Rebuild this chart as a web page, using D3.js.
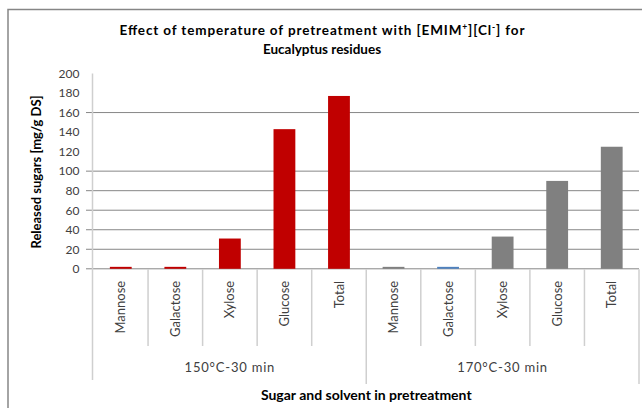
<!DOCTYPE html>
<html><head><meta charset="utf-8">
<script src="https://cdn.jsdelivr.net/npm/d3@7"></script>
<style>
body{margin:0;background:#fff;}
svg{display:block;font-family:"Lato","Liberation Sans",sans-serif;}
</style></head>
<body><svg id="c" width="642" height="408"></svg>
<script>
const groups = ["150°C-30 min", "170°C-30 min"];
const sugars = ["Mannose", "Galactose", "Xylose", "Glucose", "Total"];
const values150 = [2, 2, 31, 143, 177];
const values170 = [2, 2, 33, 90, 125];
const colors150 = ["#c00000", "#c00000", "#c00000", "#c00000", "#c00000"];
const colors170 = ["#808080", "#4f81bd", "#808080", "#808080", "#808080"];
const yTicks = [0, 20, 40, 60, 80, 100, 120, 140, 160, 180, 200];
const gridValues = [0, 20, 40, 60, 80, 100, 160];

const data = [];
groups.forEach((g, gi) => sugars.forEach((s, si) => {
  data.push({key: gi + "-" + s, group: g, gi, sugar: s,
    value: gi === 0 ? values150[si] : values170[si],
    color: gi === 0 ? colors150[si] : colors170[si]});
}));

const svg = d3.select("#c");
const pLeft = 93.5, pRight = 639, pTop = 73.5, pBottom = 268.8;

// outer border
svg.append("rect").attr("x", 8).attr("y", 9.5).attr("width", 660).attr("height", 420)
  .attr("fill", "none").attr("stroke", "#868686").attr("stroke-width", 1.5);

const x = d3.scaleBand().domain(data.map(d => d.key)).range([pLeft, pRight])
  .paddingInner(0.6).paddingOuter(0.3);
const y = d3.scaleLinear().domain([0, 200]).range([pBottom, pTop]);
const step = x.step();
const pad = step * 0.3;

// gridlines
svg.append("g").selectAll("line").data(gridValues).join("line")
  .attr("x1", 86).attr("x2", pRight).attr("y1", d => y(d)).attr("y2", d => y(d))
  .attr("stroke", "#878787").attr("stroke-width", 1);

// y axis
const yAxis = svg.append("g").attr("transform", `translate(${pLeft - 1},0)`)
  .call(d3.axisLeft(y).tickValues(yTicks).tickSize(0).tickPadding(13));
yAxis.select(".domain").remove();
yAxis.selectAll("text").attr("font-size", 12).attr("fill", "#404040")
  .attr("font-family", "Lato, Liberation Sans, sans-serif");
svg.append("line").attr("x1", pLeft - 1).attr("x2", pLeft - 1).attr("y1", pTop).attr("y2", 380)
  .attr("stroke", "#cfcfcf").attr("stroke-width", 1.5);

// bars
svg.append("g").selectAll("rect").data(data).join("rect")
  .attr("x", d => x(d.key)).attr("width", x.bandwidth())
  .attr("y", d => y(d.value)).attr("height", d => y(0) - y(d.value))
  .attr("fill", d => d.color);

// category separators
const seps = data.map(d => x(d.key) - pad).concat([pRight]);
svg.append("g").selectAll("line").data(seps.slice(1)).join("line")
  .attr("x1", d => d).attr("x2", d => d)
  .attr("y1", pBottom + 0.5)
  .attr("y2", (d, i) => (i === 4 || i === 9) ? 384 : 346)
  .attr("stroke", "#cfcfcf").attr("stroke-width", 1.5);

// category labels
const xAxis = svg.append("g").attr("transform", `translate(0,${pBottom})`)
  .call(d3.axisBottom(x).tickSize(0).tickFormat(k => k.split("-")[1]));
xAxis.select(".domain").remove();
xAxis.selectAll("text").attr("font-size", 13).attr("fill", "#404040")
  .attr("font-family", "Lato, Liberation Sans, sans-serif")
  .attr("transform", "rotate(-90)").attr("text-anchor", "end")
  .attr("x", -12).attr("y", 0).attr("dy", "0.35em");

// group labels
svg.append("g").selectAll("text").data(groups).join("text")
  .attr("x", (g, gi) => (x(gi + "-Mannose") - pad + x(gi + "-Total") + x.bandwidth() + pad) / 2)
  .attr("y", 372).attr("text-anchor", "middle")
  .attr("font-size", 13).attr("letter-spacing", 0.8).attr("fill", "#404040").text(g => g);

// axis titles
svg.append("text").attr("x", (pLeft + pRight) / 2).attr("y", 400).attr("text-anchor", "middle")
  .attr("font-size", 14).attr("font-weight", "bold").attr("fill", "#000")
  .text("Sugar and solvent in pretreatment");
svg.append("text").attr("transform", `translate(41,172) rotate(-90)`).attr("text-anchor", "middle")
  .attr("font-size", 13).attr("font-weight", "bold").attr("fill", "#000")
  .text("Released sugars [mg/g DS]");

// title
const t1 = svg.append("text").attr("x", 322).attr("y", 35).attr("text-anchor", "middle")
  .attr("font-size", 13.5).attr("font-weight", "bold").attr("fill", "#000")
  .attr("textLength", 405).attr("lengthAdjust", "spacing");
t1.append("tspan").text("Effect of temperature of pretreatment with [EMIM");
t1.append("tspan").attr("font-size", 8.5).attr("dy", -5).text("+");
t1.append("tspan").attr("dy", 5).text("][Cl");
t1.append("tspan").attr("font-size", 8.5).attr("dy", -5).text("-");
t1.append("tspan").attr("dy", 5).text("] for");
svg.append("text").attr("x", 322).attr("y", 53.5).attr("text-anchor", "middle")
  .attr("font-size", 13.5).attr("font-weight", "bold").attr("fill", "#000")
  .text("Eucalyptus residues");
</script></body></html>
